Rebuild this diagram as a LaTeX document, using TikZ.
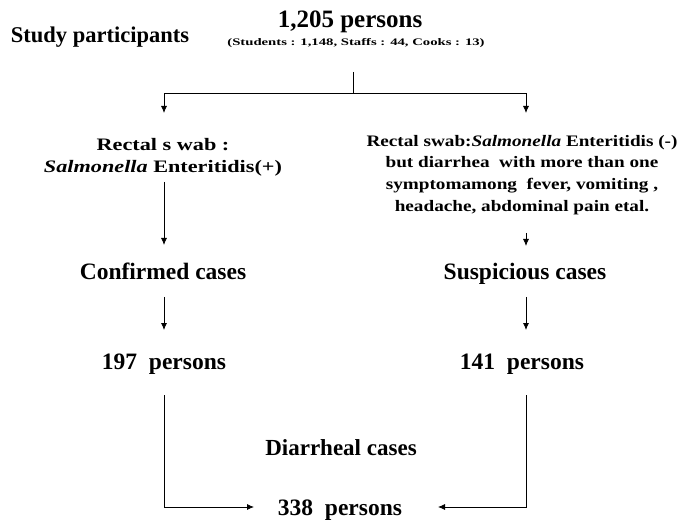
\documentclass[tikz,border=0pt]{standalone}
\usepackage{fontspec}
\setmainfont{Liberation Serif}
\usetikzlibrary{arrows.meta}
\begin{document}
\begin{tikzpicture}[x=1pt,y=-1pt,
  every node/.style={inner sep=0pt,font=\bfseries},
  big/.style={font=\fontsize{23.5}{26}\selectfont\bfseries,anchor=base},
  head/.style={font=\fontsize{22.5}{24}\selectfont\bfseries,anchor=base},
  mid/.style={font=\fontsize{17.5}{22}\selectfont\bfseries,align=center,xscale=1.27},
  small/.style={font=\fontsize{16}{21.7}\selectfont\bfseries,align=center,xscale=1.2},
  tiny/.style={font=\fontsize{10}{10}\selectfont\bfseries,xscale=1.47},
  conn/.style={draw=black,line width=0.8pt},
  arr/.style={conn,-{Latex[length=7pt,width=6pt]}}]
\useasboundingbox (0,0) rectangle (682,526);
\node[head] (sp) at (100,43) {Study participants};
\node[font=\fontsize{25}{26}\selectfont\bfseries,anchor=base] (tot) at (350,28) {1,205 persons};
\node[tiny] (sub) at (356,43) {(Students : 1,148, Staffs : 44, Cooks : 13)};
\coordinate (stem) at (353,72);
\coordinate (bar) at (353,93);
\coordinate (bl) at (164,93);
\coordinate (br) at (526,93);
\coordinate (tl) at (164,113);
\coordinate (tr) at (526,113);
\draw[conn] (stem) -- (bar);
\draw[arr] (bar) -- (bl) -- (tl);
\draw[arr] (bar) -- (br) -- (tr);
\node[mid] (ls) at (163,157) {Rectal s wab :\\\textit{Salmonella} Enteritidis(+)};
\node[small] (rs) at (522,175) {Rectal swab:\textit{Salmonella} Enteritidis (-)\\but diarrhea \ with more than one\\symptomamong \ fever, vomiting ,\\headache, abdominal pain etal.};
\node[big] (cc) at (163,280) {Confirmed cases};
\node[big] (sc) at (525,280) {Suspicious cases};
\node[big] (lp) at (164,369) {197 \ persons};
\node[big] (rp) at (522,369) {141 \ persons};
\node[font=\fontsize{23}{26}\selectfont\bfseries,anchor=base] (dc) at (341,455) {Diarrheal cases};
\node[big] (fp) at (340,515) {338 \ persons};
\coordinate (la1) at (164,182);
\coordinate (la2) at (164,245);
\coordinate (ra1) at (526,233);
\coordinate (ra2) at (526,246);
\coordinate (la3) at (164,297);
\coordinate (la4) at (164,330);
\coordinate (ra3) at (526,297);
\coordinate (ra4) at (526,330);
\draw[arr] (la1) -- (la2);
\draw[arr] (ra1) -- (ra2);
\draw[arr] (la3) -- (la4);
\draw[arr] (ra3) -- (ra4);
\coordinate (lt) at (164,395);
\coordinate (rt) at (526,395);
\coordinate (lc) at (164,507);
\coordinate (rc) at (526,507);
\coordinate (lend) at (254,507);
\coordinate (rend) at (438,507);
\draw[arr] (lt) -- (lc) -- (lend);
\draw[arr] (rt) -- (rc) -- (rend);
\end{tikzpicture}
\end{document}
